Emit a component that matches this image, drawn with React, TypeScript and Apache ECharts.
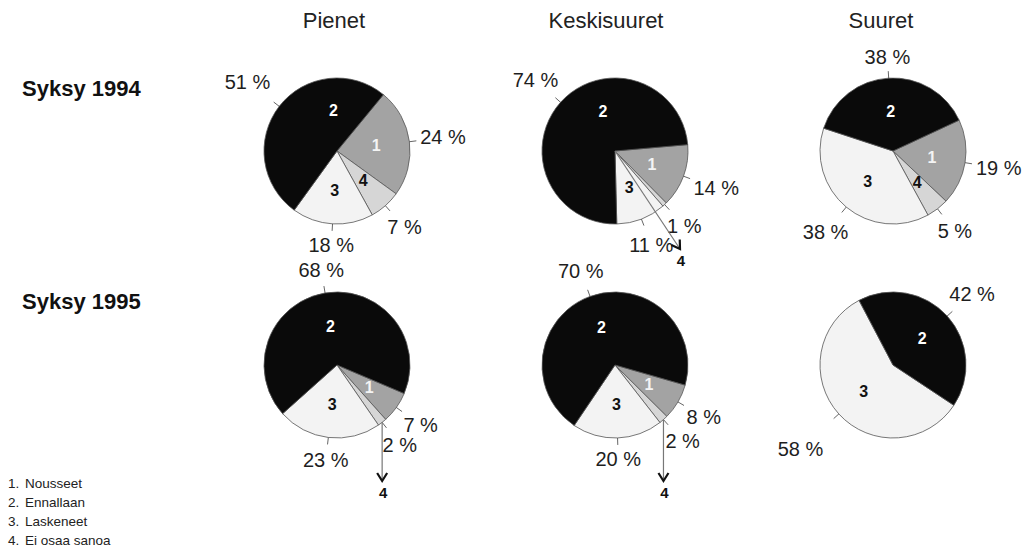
import React, { useEffect, useRef } from "react";
import * as echarts from "echarts";

// ---- data ----
const categories = ["1", "2", "3", "4"];
const legendNames = ["Nousseet", "Ennallaan", "Laskeneet", "Ei osaa sanoa"];
const columnTitles = ["Pienet", "Keskisuuret", "Suuret"];
const rowTitles = ["Syksy 1994", "Syksy 1995"];
// values in category order 1,2,3,4 (percent)
const pienet1994 = [24, 51, 18, 7];
const keski1994 = [14, 74, 11, 1];
const suuret1994 = [19, 38, 38, 5];
const pienet1995 = [7, 68, 23, 2];
const keski1995 = [8, 70, 20, 2];
const suuret1995 = [0, 42, 58, 0];

// ---- styling / layout ----
const FONT = "'Liberation Sans', Arial, Helvetica, sans-serif";
const drawOrder = [0, 3, 2, 1]; // clockwise: 1, 4, 3, 2
const colors = ["#a3a3a3", "#0a0a0a", "#f3f3f3", "#d6d6d6"];
const innerColors = ["#f4f4f4", "#ffffff", "#111111", "#111111"];
const R = 73;
const colX = [337, 615, 893];
const rowY = [151, 365];
// clockwise degrees from 12 o'clock where the first drawn slice starts
const startCW = [
  [39.5, 85, 65],
  [113, 106, 123.5],
];
const pies = [
  [pienet1994, keski1994, suuret1994],
  [pienet1995, keski1995, suuret1995],
];
// inner label angle overrides (row-col-category -> clockwise deg)
const innerAngleOverride: Record<string, number> = {
  "0-0-1": 355,
  "0-1-1": 343,
};
// extra outward distance for some outer labels (row-col-category -> px)
const labelExtra: Record<string, number> = {
  "0-0-1": 6,
  "1-2-2": 18,
};

function sliceMid(vals: number[], startDeg: number, cat: number) {
  const total = vals.reduce((a, b) => a + b, 0);
  let acc = startDeg;
  for (const i of drawOrder) {
    if (vals[i] <= 0) continue;
    const span = (vals[i] / total) * 360;
    if (i === cat) return acc + span / 2;
    acc += span;
  }
  return acc;
}

function buildOption() {
  const series: any[] = [];
  const graphics: any[] = [];
  for (let r = 0; r < 2; r++) {
    for (let c = 0; c < 3; c++) {
      const vals = pies[r][c];
      const center = [colX[c], rowY[r]];
      const startAngle = 90 - startCW[r][c];
      const items = drawOrder.filter((i) => vals[i] > 0);
      const mids = items.map((i) => (sliceMid(vals, startCW[r][c], i) * Math.PI) / 180);
      series.push({
        type: "pie",
        center,
        radius: R,
        startAngle,
        clockwise: true,
        avoidLabelOverlap: false,
        data: items.map((i) => ({
          name: categories[i],
          value: vals[i],
          itemStyle: { color: colors[i] },
        })),
        itemStyle: { borderColor: "#555", borderWidth: 0.8 },
        label: {
          show: true,
          position: "outside",
          formatter: "{c} %",
          fontSize: 20,
          color: "#1e1e1e",
          fontFamily: FONT,
        },
        labelLine: {
          show: true,
          length: 7,
          length2: 0,
          lineStyle: { color: "#666", width: 1 },
        },
        labelLayout: (p: any) => {
          const a = mids[p.dataIndex];
          if (a == null) return {};
          const cat = items[p.dataIndex];
          const extra = labelExtra[`${r}-${c}-${cat}`] || 0;
          const ux = Math.sin(a);
          const uy = -Math.cos(a);
          const w = p.labelRect.width;
          const h = p.labelRect.height;
          const half = Math.abs(ux) * (w / 2) + Math.abs(uy) * (h / 2);
          const d = R + 7 + 3 + half + extra;
          const p0 = [center[0] + ux * (R - 3), center[1] + uy * (R - 3)];
          const p1 = [center[0] + ux * (R + 7), center[1] + uy * (R + 7)];
          return {
            x: center[0] + ux * d,
            y: center[1] + uy * d,
            align: "center",
            verticalAlign: "middle",
            labelLinePoints: [p0, p1, p1],
          };
        },
      });
      series.push({
        type: "pie",
        center,
        radius: R,
        startAngle,
        clockwise: true,
        silent: true,
        z: 3,
        data: items.map((i) => ({
          name: categories[i],
          value: vals[i],
          label: {
            show: vals[i] >= 5,
            color: innerColors[i],
          },
        })),
        itemStyle: { color: "rgba(0,0,0,0)", borderWidth: 0 },
        label: {
          show: true,
          position: "inside",
          formatter: "{b}",
          fontSize: 16,
          fontWeight: "bold",
          fontFamily: FONT,
        },
        labelLine: { show: false },
        labelLayout: (p: any) => {
          const cat = items[p.dataIndex];
          const ov = innerAngleOverride[`${r}-${c}-${cat}`];
          if (ov == null) return {};
          const a = (ov * Math.PI) / 180;
          return {
            x: center[0] + Math.sin(a) * R * 0.56,
            y: center[1] - Math.cos(a) * R * 0.56,
            align: "center",
            verticalAlign: "middle",
          };
        },
      });

      // arrow annotation for tiny "4" slices
      const v4 = vals[3];
      if (v4 > 0 && v4 < 5) {
        const mid = (sliceMid(vals, startCW[r][c], 3) * Math.PI) / 180;
        let x1: number, y1: number, x2: number, y2: number;
        if (r === 0) {
          x1 = center[0];
          y1 = center[1];
          x2 = center[0] + 65;
          y2 = center[1] + 98;
        } else {
          x1 = center[0] + R * Math.sin(mid);
          y1 = center[1] - R * Math.cos(mid);
          x2 = x1;
          y2 = 481;
        }
        const len = Math.hypot(x2 - x1, y2 - y1);
        const ux = (x2 - x1) / len;
        const uy = (y2 - y1) / len;
        const nx = -uy;
        const ny = ux;
        graphics.push({
          type: "line",
          shape: { x1, y1, x2, y2 },
          style: { stroke: "#777", lineWidth: 1.2 },
          z: 10,
        });
        graphics.push({
          type: "polyline",
          shape: {
            points: [
              [x2 - 8 * ux + 5 * nx, y2 - 8 * uy + 5 * ny],
              [x2, y2],
              [x2 - 8 * ux - 5 * nx, y2 - 8 * uy - 5 * ny],
            ],
          },
          style: { stroke: "#111", lineWidth: 2.2, fill: null },
          z: 10,
        });
        graphics.push({
          type: "text",
          x: x2 + 1,
          y: y2 + 4,
          style: {
            text: "4",
            font: `bold 15px ${FONT}`,
            fill: "#111",
            textAlign: "center",
            textVerticalAlign: "top",
          },
          z: 10,
        });
      }
    }
  }

  // column titles
  const titleX = [334, 606, 881];
  columnTitles.forEach((t, i) =>
    graphics.push({
      type: "text",
      x: titleX[i],
      y: 20,
      style: {
        text: t,
        font: `22px ${FONT}`,
        fill: "#222",
        textAlign: "center",
        textVerticalAlign: "middle",
      },
    })
  );
  // row titles
  const rowTitleY = [88, 301];
  rowTitles.forEach((t, i) =>
    graphics.push({
      type: "text",
      x: 22,
      y: rowTitleY[i],
      style: {
        text: t,
        font: `bold 22px ${FONT}`,
        fill: "#111",
        textAlign: "left",
        textVerticalAlign: "middle",
      },
    })
  );
  // legend
  legendNames.forEach((t, i) => {
    const y = 483 + i * 19;
    graphics.push({
      type: "text",
      x: 8,
      y,
      style: {
        text: `${categories[i]}.`,
        font: `13.5px ${FONT}`,
        fill: "#222",
        textVerticalAlign: "middle",
      },
    });
    graphics.push({
      type: "text",
      x: 25,
      y,
      style: {
        text: t,
        font: `13.5px ${FONT}`,
        fill: "#222",
        textVerticalAlign: "middle",
      },
    });
  });

  return {
    animation: false,
    backgroundColor: "#ffffff",
    series,
    graphic: graphics,
  };
}

export default function App() {
  const ref = useRef<HTMLDivElement>(null);
  useEffect(() => {
    document.body.style.margin = "0";
    if (!ref.current) return;
    const chart = echarts.init(ref.current, undefined, { renderer: "svg" });
    chart.setOption(buildOption() as any);
    return () => chart.dispose();
  }, []);
  return <div ref={ref} style={{ width: 1035, height: 550 }} />;
}
